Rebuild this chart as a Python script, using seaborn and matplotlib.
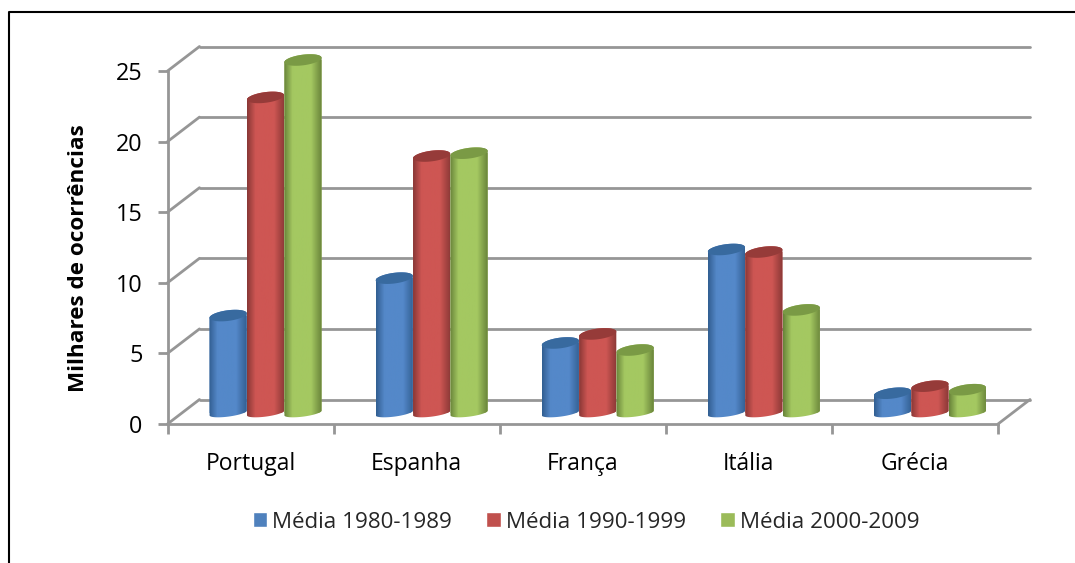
import numpy as np
import pandas as pd
import matplotlib
matplotlib.use("Agg")
import matplotlib.pyplot as plt
import seaborn as sns
from matplotlib.colors import LinearSegmentedColormap
from matplotlib.lines import Line2D
from matplotlib.patches import PathPatch
from matplotlib.path import Path
from matplotlib.transforms import Affine2D, IdentityTransform

categories = ["Portugal", "Espanha", "França", "Itália", "Grécia"]
media_1980 = [6.9, 9.55, 4.96, 11.58, 1.4]
media_1990 = [22.35, 18.2, 5.6, 11.4, 1.9]
media_2000 = [25.0, 18.4, 4.46, 7.3, 1.65]
series_names = ["Média 1980-1989", "Média 1990-1999", "Média 2000-2009"]
y_ticks = [0, 5, 10, 15, 20, 25]

face = ["#4F81BD", "#C0504D", "#9BBB59"]
edge = ["#325f92", "#8a3836", "#69843a"]
mid = ["#5488c9", "#ce5653", "#a4c861"]
cap = ["#386a9f", "#963b39", "#7a9a45"]
grid_col = "#969696"
font = "Open Sans"

sns.set_theme(style="white")
plt.rcParams["font.family"] = [font, "DejaVu Sans"]

W, H = 1075, 563
fig = plt.figure(figsize=(W / 100, H / 100), dpi=100)
L, R, T, B = 167.5, 998, 71, 424
ax = fig.add_axes([L / W, 1 - B / H, (R - L) / W, (B - T) / H])

df = pd.DataFrame({
    "pais": categories * 3,
    "serie": [s for s in series_names for _ in categories],
    "valor": media_1980 + media_1990 + media_2000,
})
sns.barplot(data=df, x="pais", y="valor", hue="serie", palette=face,
            width=0.676, gap=0, saturation=1, errorbar=None, ax=ax, legend=True, zorder=3)
ax.set_xlim(-0.5, 4.5)
ax.set_ylim(0, 25)
ax.set_xlabel("")

# walls: back grid and left side diagonals
back = ax.transData + Affine2D().translate(32, 24.5)
for v in y_ticks:
    ax.plot([-0.5, 4.5], [v, v], transform=back, color=grid_col, lw=2, clip_on=False, zorder=1)
    ax.plot(*zip(ax.transData.transform((-0.5, v)), back.transform((-0.5, v))),
            transform=IdentityTransform(), color=grid_col, lw=2, clip_on=False, zorder=1)
ax.plot(*zip(ax.transData.transform((4.5, 0)), back.transform((4.5, 0))),
        transform=IdentityTransform(), color=grid_col, lw=2, clip_on=False, zorder=1)

for s in ["top", "right"]:
    ax.spines[s].set_visible(False)
for s in ["left", "bottom"]:
    ax.spines[s].set_color(grid_col)
    ax.spines[s].set_linewidth(2)
ax.set_yticks(y_ticks)
ax.set_xticks(range(5))
ax.set_xticklabels(categories)
ax.set_xticks(np.arange(-0.5, 5), minor=True)
ax.tick_params(axis="y", length=7, width=2, color=grid_col, labelsize=16.8, pad=11, labelcolor="black", left=True)
ax.tick_params(axis="x", which="major", length=0, labelsize=16.5, pad=20, labelcolor="black")
ax.tick_params(axis="x", which="minor", length=7, width=2, color=grid_col, bottom=True)
ax.set_ylabel("Milhares de ocorrências", fontsize=16.2, fontweight="bold", color="black", labelpad=0)
ax.yaxis.set_label_coords((89 - L) / (R - L), (B - 258) / (B - T))

# legend from the library handles
handles, labels = ax.get_legend_handles_labels()
ax.legend(handles, labels, ncol=3, frameon=False, loc="center",
          bbox_to_anchor=(586 / W, 1 - 522 / H), bbox_transform=fig.transFigure,
          fontsize=16.1, handlelength=0.66, handleheight=0.66, handletextpad=0.2,
          columnspacing=1.55)

# shape every bar into a shaded cylinder
DX, DY = 15, 11
RY_TOP, RY_BASE, TILT = 5.3, 3.6, np.deg2rad(7.5)
theta = np.linspace(0, 2 * np.pi, 61)


def ring(cx, cy, rx, ry):
    c, s = np.cos(TILT), np.sin(TILT)
    ex, ey = rx * np.cos(theta), ry * np.sin(theta)
    return np.c_[cx + ex * c - ey * s, cy + ex * s + ey * c]


bars = [b for c in ax.containers for b in c]
to_px = ax.transData + Affine2D().translate(DX, DY)
for k, bar in enumerate(bars):
    si = k // len(categories)
    x0, w, h = bar.get_x(), bar.get_width(), bar.get_height()
    (px0, py0), (px1, py1) = to_px.transform([(x0, 0), (x0 + w, h)])
    cx, rx = (px0 + px1) / 2, (px1 - px0) / 2
    top, bot = ring(cx, py1, rx, RY_TOP), ring(cx, py0, rx, RY_BASE)
    z = 3 + k * 0.01 + si
    hull = np.vstack([top[:31], bot[30:61]])
    body = PathPatch(Path(np.vstack([hull, hull[:1]])), transform=IdentityTransform())
    bar.set_transform(to_px)
    bar.set_linewidth(0)
    bar.set_zorder(z)
    body.set_visible(False)
    ax.add_patch(body)
    bar.set_clip_box(fig.bbox)
    bar.set_clip_path(body)
    cmap = LinearSegmentedColormap.from_list(
        "c", [(0, edge[si]), (0.22, mid[si]), (0.72, mid[si]), (1, edge[si])])
    im = ax.imshow(np.linspace(0, 1, 64)[None, :], cmap=cmap, aspect="auto",
                   extent=(x0, x0 + w, -2, h + 2), transform=to_px, zorder=z + 0.001)
    im.set_clip_box(fig.bbox)
    im.set_clip_path(body)
    ax.add_patch(PathPatch(Path(top), transform=IdentityTransform(), facecolor=cap[si],
                           edgecolor="none", zorder=z + 0.002, clip_on=False))
ax.set_xlim(-0.5, 4.5)
ax.set_ylim(0, 25)

# chart frame: only the top and left edges fall inside the picture
fig.add_artist(Line2D([8.5 / W, 8.5 / W, 1], [0, 1 - 11.5 / H, 1 - 11.5 / H],
                      transform=fig.transFigure, color="black", lw=1.5))
fig.savefig("out.png", dpi=100)
